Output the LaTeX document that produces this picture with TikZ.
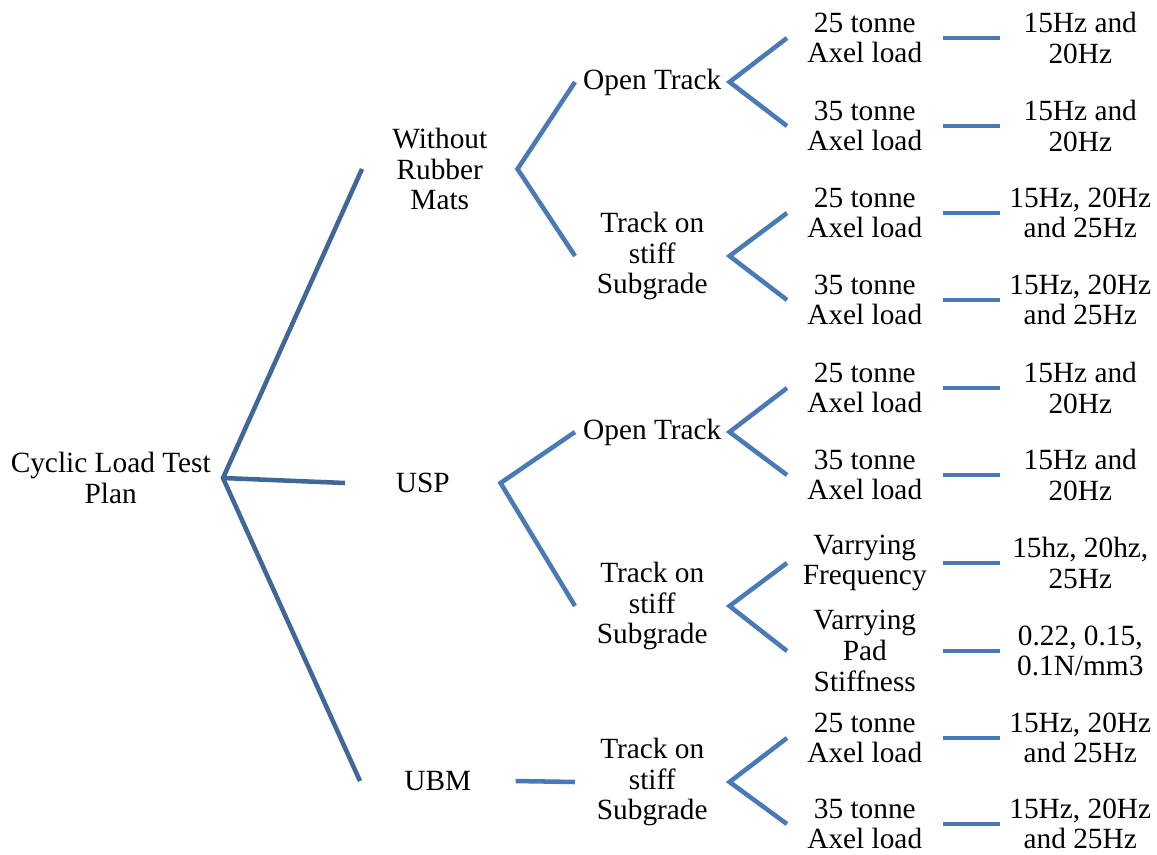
\documentclass[tikz,border=0pt]{standalone}
\usepackage{fontspec}
\setmainfont{Liberation Serif}
\usepackage{tikz}
\usepackage{xcolor}
\definecolor{darkline}{RGB}{63,103,152}
\definecolor{lightline}{RGB}{74,122,181}

\begin{document}
\begin{tikzpicture}[x=0.75pt,y=0.75pt]
\tikzstyle{every node}+=[inner sep=0pt,align=center,font=\fontsize{22}{23}\selectfont]
\tikzstyle{rootline}=[draw=darkline,line width=3.4pt]
\tikzstyle{branchline}=[draw=lightline,line width=3.4pt]
\tikzstyle{lvltwo}=[anchor=west,minimum width=116.25pt]
\tikzstyle{lvlthree}=[anchor=west,minimum width=115.5pt]
\tikzstyle{lvlfour}=[anchor=west,minimum width=116.25pt]
\tikzstyle{lvlfive}=[anchor=west,minimum width=120pt]
\useasboundingbox (0,0) rectangle (1157,-854);
% root
\node [anchor=east,minimum width=168pt] (plan) at (223,-478) {Cyclic Load Test\\Plan};
% second level
\node [lvltwo] (norubber) at (362,-169) {Without\\Rubber\\Mats};
\node [lvltwo] (usp) at (345,-483) {USP};
\node [lvltwo] (ubm) at (360,-781) {UBM};
% third level
\node [lvlthree] (openA) at (575,-82) {Open Track};
\node [lvlthree] (stiffA) at (575,-256) {Track on\\stiff\\Subgrade};
\node [lvlthree] (openB) at (575,-432) {Open Track};
\node [lvlthree] (stiffB) at (575,-606) {Track on\\stiff\\Subgrade};
\node [lvlthree] (stiffC) at (575,-782) {Track on\\stiff\\Subgrade};
% fourth level
\node [lvlfour] (loadA) at (787,-38) {25 tonne\\Axel load};
\node [lvlfour] (loadB) at (787,-126) {35 tonne\\Axel load};
\node [lvlfour] (loadC) at (787,-213) {25 tonne\\Axel load};
\node [lvlfour] (loadD) at (787,-300) {35 tonne\\Axel load};
\node [lvlfour] (loadE) at (787,-388) {25 tonne\\Axel load};
\node [lvlfour] (loadF) at (787,-475) {35 tonne\\Axel load};
\node [lvlfour] (freq) at (787,-563) {Varrying\\Frequency};
\node [lvlfour] (pad) at (787,-651) {Varrying\\Pad\\Stiffness};
\node [lvlfour] (loadG) at (787,-738) {25 tonne\\Axel load};
\node [lvlfour] (loadH) at (787,-824) {35 tonne\\Axel load};
% fifth level
\node [lvlfive] (hzA) at (1000,-38) {15Hz and\\20Hz};
\node [lvlfive] (hzB) at (1000,-126) {15Hz and\\20Hz};
\node [lvlfive] (hzC) at (1000,-213) {15Hz, 20Hz\\and 25Hz};
\node [lvlfive] (hzD) at (1000,-300) {15Hz, 20Hz\\and 25Hz};
\node [lvlfive] (hzE) at (1000,-388) {15Hz and\\20Hz};
\node [lvlfive] (hzF) at (1000,-475) {15Hz and\\20Hz};
\node [lvlfive] (hzG) at (1000,-563) {15hz, 20hz,\\25Hz};
\node [lvlfive] (stiff) at (1000,-651) {0.22, 0.15,\\0.1N/mm3};
\node [lvlfive] (hzH) at (1000,-738) {15Hz, 20Hz\\and 25Hz};
\node [lvlfive] (hzI) at (1000,-824) {15Hz, 20Hz\\and 25Hz};
% connectors
\draw [rootline] (norubber.west) -- (plan.east) -- (ubm.west);
\draw [rootline] (plan.east) -- (usp.west);
\draw [branchline] (openA.west) -- (norubber.east) -- (stiffA.west);
\draw [branchline] (openB.west) -- (usp.east) -- (stiffB.west);
\draw [branchline] (ubm.east) -- (stiffC.west);
\draw [branchline] (loadA.west) -- (openA.east) -- (loadB.west);
\draw [branchline] (loadC.west) -- (stiffA.east) -- (loadD.west);
\draw [branchline] (loadE.west) -- (openB.east) -- (loadF.west);
\draw [branchline] (freq.west) -- (stiffB.east) -- (pad.west);
\draw [branchline] (loadG.west) -- (stiffC.east) -- (loadH.west);
\draw [branchline] (loadA.east) -- (hzA.west);
\draw [branchline] (loadB.east) -- (hzB.west);
\draw [branchline] (loadC.east) -- (hzC.west);
\draw [branchline] (loadD.east) -- (hzD.west);
\draw [branchline] (loadE.east) -- (hzE.west);
\draw [branchline] (loadF.east) -- (hzF.west);
\draw [branchline] (freq.east) -- (hzG.west);
\draw [branchline] (pad.east) -- (stiff.west);
\draw [branchline] (loadG.east) -- (hzH.west);
\draw [branchline] (loadH.east) -- (hzI.west);
\end{tikzpicture}
\end{document}
